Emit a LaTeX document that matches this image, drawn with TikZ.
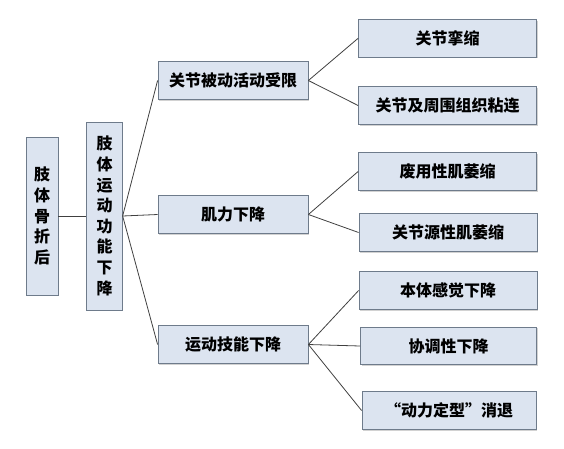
\documentclass[tikz,border=0pt]{standalone}
\usepackage{fontspec}
\setmainfont{Noto Sans CJK SC}
\usetikzlibrary{shadows}
\definecolor{boxfill}{HTML}{DCE4F0}
\definecolor{boxline}{HTML}{6E7B8B}
\definecolor{linkline}{HTML}{404040}
\tikzset{
  cbox/.style={draw=boxline, fill=boxfill, line width=0.8pt, inner sep=0pt,
    font=\fontsize{16}{20.6}\selectfont\bfseries, align=center,
    drop shadow={shadow xshift=1.2pt, shadow yshift=-1.2pt, fill=gray!35, opacity=1}},
  vbox/.style={cbox, minimum width=#1},
  hbox/.style={cbox, minimum width=#1, minimum height=37.6},
  link/.style={draw=linkline, line width=0.8pt}
}
\begin{document}
\begin{tikzpicture}[x=1pt, y=-1pt]
            \useasboundingbox (0,0) rectangle (564,448);
            % left vertical boxes
            \node[vbox=32, minimum height=158] (frac) at (42,216) {肢\\体\\骨\\折\\后};
            \node[vbox=35.5, minimum height=188] (motor) at (104.5,216) {肢\\体\\运\\动\\功\\能\\下\\降};
            % middle level
            \node[hbox=150] (joint) at (233,80.5) {关节被动活动受限};
            \node[hbox=150] (muscle) at (233,214.5) {肌力下降};
            \node[hbox=150] (skill) at (233,344.5) {运动技能下降};
            % right level
            \node[hbox=178] (contract) at (447.5,38.3) {关节挛缩};
            \node[hbox=178] (adhesion) at (447.5,105.5) {关节及周围组织粘连};
            \node[hbox=178] (disuse) at (447.5,171.5) {废用性肌萎缩};
            \node[hbox=178] (arthro) at (448,232.5) {关节源性肌萎缩};
            \node[hbox=178] (proprio) at (448,290.5) {本体感觉下降};
            \node[hbox=176] (coord) at (448.5,346) {协调性下降};
            \node[hbox=174] (pattern) at (449,410.5) {“动力定型”消退};
            
            \draw[link] (frac) -- (motor);
            \draw[link] (motor.east) -- (joint.west);
            \draw[link] (motor.east) -- (muscle.west);
            \draw[link] (motor.east) -- (skill.west);
            \draw[link] (joint.east) -- (contract.west);
            \draw[link] (joint.east) -- (adhesion.west);
            \draw[link] (muscle.east) -- (disuse.west);
            \draw[link] (muscle.east) -- (arthro.west);
            \draw[link] (skill.east) -- (proprio.west);
            \draw[link] (skill.east) -- (coord.west);
            \draw[link] (skill.east) -- (pattern.west);
        \end{tikzpicture}
\end{document}
